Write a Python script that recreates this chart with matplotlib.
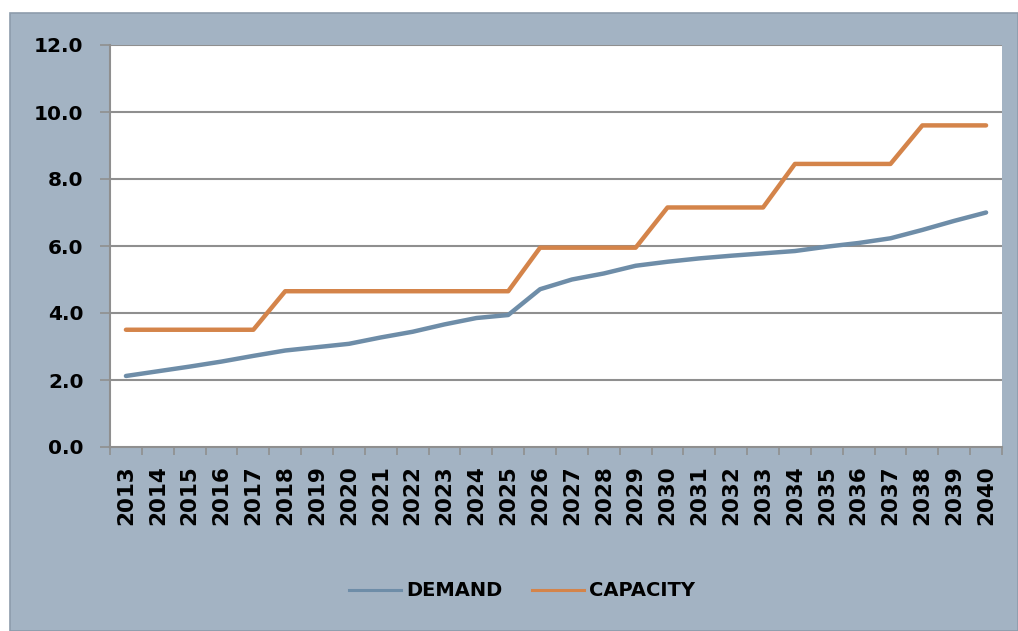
import numpy as np
import matplotlib.pyplot as plt
from matplotlib.patches import Rectangle
from matplotlib.lines import Line2D

years = list(range(2013, 2041))
demand = [2.12, 2.26, 2.40, 2.55, 2.72, 2.88, 2.98, 3.08, 3.27, 3.44, 3.66, 3.85,
          3.94, 4.71, 5.00, 5.18, 5.41, 5.53, 5.63, 5.71, 5.78, 5.85, 5.98, 6.09,
          6.23, 6.48, 6.75, 7.00]
capacity = [3.50, 3.50, 3.50, 3.50, 3.50, 4.65, 4.65, 4.65, 4.65, 4.65, 4.65, 4.65,
            4.65, 5.95, 5.95, 5.95, 5.95, 7.15, 7.15, 7.15, 7.15, 8.45, 8.45, 8.45,
            8.45, 9.60, 9.60, 9.60]
yticks = [0, 2, 4, 6, 8, 10, 12]

panel = "#a3b3c3"
c_dem = "#6e8da8"
c_cap = "#d4844a"
grid = "#8f8f8f"

fig = plt.figure(figsize=(10.18, 6.31), dpi=100)
fig.patch.set_facecolor("white")
fig.patches.append(Rectangle((10 / 1018, 0), 1 - 10 / 1018, 1 - 13 / 631,
                             transform=fig.transFigure, facecolor=panel,
                             edgecolor="#8d9cab", linewidth=1.2, zorder=-5))

ax = fig.add_axes([110 / 1018, 1 - 447 / 631, 892 / 1018, 402 / 631])
ax.set_zorder(2)
ax.set_facecolor("white")
x = np.arange(len(years))
ax.plot(x, demand, color=c_dem, lw=3.2, solid_capstyle="round", zorder=3)
ax.plot(x, capacity, color=c_cap, lw=3.2, solid_capstyle="round", zorder=3)

ax.set_xlim(-0.5, len(years) - 0.5)
ax.set_ylim(0, 12)
ax.set_yticks(yticks)
ax.set_yticklabels([f"{v:.1f}" for v in yticks], fontsize=14.5, fontweight="bold")
for v in yticks[1:]:
    ax.axhline(v, color=grid, lw=1.5, zorder=1)

ax.set_xticks(x)
ax.set_xticklabels([str(y) for y in years], rotation=90, fontsize=15.5,
                   fontweight="bold")
ax.set_xticks(np.arange(-0.5, len(years)), minor=True)
ax.tick_params(axis="x", which="major", length=0, pad=13)
ax.tick_params(axis="x", which="minor", length=6, width=1.2, color=grid,
               direction="out")
ax.tick_params(axis="y", length=7, width=1.2, color=grid, pad=12)

for s in ["top", "right"]:
    ax.spines[s].set_visible(False)
for s in ["left", "bottom"]:
    ax.spines[s].set_color(grid)
    ax.spines[s].set_linewidth(1.5)

handles = [Line2D([], [], color=c_dem, lw=2.2), Line2D([], [], color=c_cap, lw=2.2)]
leg = fig.legend(handles, ["DEMAND", "CAPACITY"], loc="center",
                 bbox_to_anchor=(522 / 1018, 1 - 591 / 631), ncol=2, frameon=False,
                 prop={"weight": "bold", "size": 14}, handlelength=2.7,
                 handletextpad=0.25, columnspacing=1.5)
leg.set_zorder(3)

fig.savefig("out.png", dpi=100)
